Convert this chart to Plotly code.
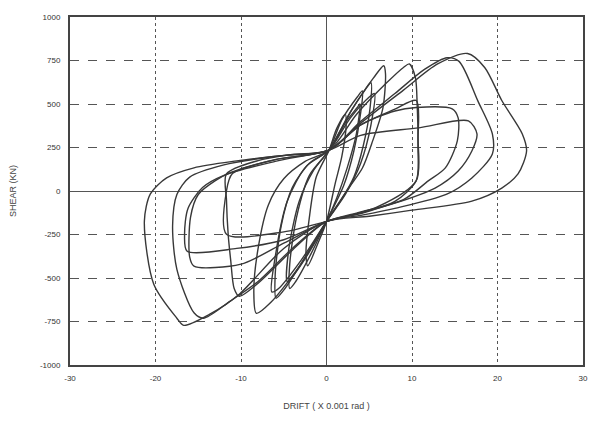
import plotly.graph_objects as go

# ---- data (drift in 0.001 rad, shear in kN) ----
drift_c1 = [0.3, 1.2, 2.2, 2.3, 1.8, 1.0, 0.0, -1.0, -2.2, -2.4, -2.0, -1.2, 0.3]
shear_c1 = [235, 360, 440, 380, 200, 40, -175, -300, -430, -360, -150, 80, 235]

drift_c2 = [0.3, 1.8, 3.6, 4.2, 4.0, 3.2, 2.0, 0.0, -1.8, -3.6, -4.3, -4.3, -3.5, -2.0, 0.3]
shear_c2 = [235, 410, 540, 575, 450, 230, 30, -175, -360, -520, -560, -420, -150, 90, 235]

drift_c2b = [0.3, 2.0, 3.6, 3.9, 3.5, 2.4, 1.2, 0.0, -2.0, -3.8, -4.6, -4.4, -3.2, -1.5, 0.3]
shear_c2b = [235, 380, 480, 500, 330, 130, -40, -175, -350, -480, -520, -330, -60, 120, 235]

drift_c3 = [0.3, 2.5, 4.5, 5.2, 5.1, 4.3, 3.2, 1.6, 0.0, -2.5, -5.0, -5.9, -6.0, -5.3, -4.0, -2.0, 0.3]
shear_c3 = [235, 430, 580, 622, 480, 260, 80, -60, -175, -380, -570, -616, -480, -200, 20, 160, 235]

drift_c3b = [0.3, 2.8, 5.0, 5.6, 5.2, 4.0, 2.2, 0.0, -3.0, -5.6, -6.4, -6.0, -4.6, -2.4, 0.3]
shear_c3b = [235, 420, 540, 560, 380, 160, -20, -175, -400, -560, -580, -380, -60, 140, 235]

drift_c4 = [0.3, 3.0, 5.5, 6.7, 6.9, 6.6, 5.4, 4.2, 2.6, 0.0, -3.0, -6.5, -8.2, -8.5, -8.0, -6.8, -5.0, -2.5, 0.3]
shear_c4 = [235, 470, 650, 720, 674, 478, 288, 132, 17, -175, -420, -640, -703, -580, -330, -80, 70, 170, 235]

drift_c5 = [0.3, 3.5, 7.0, 9.0, 9.7, 10.4, 10.6, 10.7, 10.5, 8.0, 4.0, 0.0,
            -4.0, -8.0, -10.2, -10.8, -11.2, -11.5, -11.7, -11.7, -8.0, -4.0, 0.3]
shear_c5 = [235, 440, 620, 710, 730, 650, 500, 250, 60, -60, -130, -175,
            -340, -530, -605, -560, -400, -250, -50, 98, 175, 210, 235]

drift_c6 = [0.3, 4.0, 8.0, 10.5, 10.7, 10.5, 6.0, 0.0,
            -5.0, -11.7, -11.7, -11.0, -6.0, 0.3]
shear_c6 = [235, 380, 470, 520, 300, 60, -90, -175,
            -235, -248, 0, 100, 180, 235]

drift_c7 = [0.3, 4.0, 8.0, 11.5, 14.1, 15.5, 17.7, 19.4, 19.4, 17.0, 14.0, 8.0, 4.0, 0.0,
            -4.0, -8.0, -11.3, -14.4, -15.5, -17.5, -18.0, -17.5, -16.0, -12.0, -6.0, 0.3]
shear_c7 = [235, 400, 560, 700, 766, 745, 518, 328, 213, 75, -20, -100, -140, -175,
            -330, -520, -634, -731, -700, -450, -200, -20, 80, 150, 200, 235]

drift_c8 = [0.3, 4.0, 8.0, 10.5, 14.7, 15.4, 15.3, 13.9, 11.9, 9.0, 4.0, 0.0,
            -5.0, -10.0, -15.5, -16.0, -15.9, -15.0, -13.0, -11.0, -6.0, 0.3]
shear_c8 = [235, 380, 460, 480, 472, 420, 288, 133, 58, -50, -120, -175,
            -300, -420, -432, -380, -150, -20, 60, 110, 180, 235]

drift_c9 = [0.3, 4.0, 9.0, 13.0, 16.5, 18.5, 20.5, 22.9, 23.4, 22.4, 20.5, 17.0, 10.0, 5.0, 0.0,
            -5.0, -10.2, -13.7, -16.7, -17.5, -20.2, -21.3, -20.6, -18.7, -15.5, -10.5, -5.0, 0.3]
shear_c9 = [235, 390, 580, 730, 790, 710, 520, 328, 230, 98, 17, -58, -110, -145, -175,
            -330, -593, -709, -772, -731, -536, -173, -17, 75, 133, 173, 205, 235]

drift_c10 = [0.3, 4.0, 10.8, 16.6, 17.6, 17.0, 15.4, 12.7, 8.0, 4.0, 0.0,
             -5.0, -10.5, -16.3, -16.6, -16.2, -14.5, -12.0, -6.0, 0.3]
shear_c10 = [235, 320, 363, 403, 328, 230, 115, 17, -70, -125, -175,
             -280, -330, -346, -250, -100, 20, 90, 170, 235]

cycles = [
    (drift_c1, shear_c1), (drift_c2, shear_c2), (drift_c2b, shear_c2b),
    (drift_c3, shear_c3), (drift_c3b, shear_c3b),
    (drift_c4, shear_c4), (drift_c5, shear_c5), (drift_c6, shear_c6),
    (drift_c7, shear_c7), (drift_c8, shear_c8), (drift_c9, shear_c9),
    (drift_c10, shear_c10),
]

x_ticks = [-30, -20, -10, 0, 10, 20, 30]
y_ticks = [-1000, -750, -500, -250, 0, 250, 500, 750, 1000]

fig = go.Figure()
for dx, sy in cycles:
    fig.add_trace(go.Scatter(
        x=dx, y=sy, mode="lines",
        line=dict(color="#383838", width=1.4, shape="spline", smoothing=0.8),
        showlegend=False, hoverinfo="skip"))

tick_font = dict(family="Liberation Sans Narrow, Liberation Sans, Arial, sans-serif",
                 size=8, color="#333333")

fig.update_layout(
    width=593, height=423,
    margin=dict(l=70, r=5, t=17, b=58),
    paper_bgcolor="white", plot_bgcolor="white",
    font=dict(family="Liberation Sans, Arial, sans-serif", color="#444444"),
)
fig.update_xaxes(
    range=[-30, 30], tickvals=x_ticks, ticktext=[str(v) for v in x_ticks],
    tickfont=tick_font, ticks="", ticklabelstandoff=4,
    showgrid=True, gridcolor="#555555", griddash="dot", gridwidth=1,
    zeroline=True, zerolinecolor="#555555", zerolinewidth=1.3,
    showline=True, mirror=True, linecolor="#444444", linewidth=2,
    title=dict(text="DRIFT ( X 0.001 rad )", font=dict(size=9, color="#444444"), standoff=21),
)
fig.update_yaxes(
    range=[-1000, 1000], tickvals=y_ticks, ticktext=[str(v) for v in y_ticks],
    tickfont=tick_font, ticks="", ticklabelstandoff=6,
    showgrid=True, gridcolor="#555555", griddash="dash", gridwidth=1,
    zeroline=True, zerolinecolor="#555555", zerolinewidth=1.3,
    showline=True, mirror=True, linecolor="#444444", linewidth=2,
    title=dict(text="SHEAR (KN)", font=dict(size=9, color="#444444"), standoff=22),
)

fig.write_html("out.html")
